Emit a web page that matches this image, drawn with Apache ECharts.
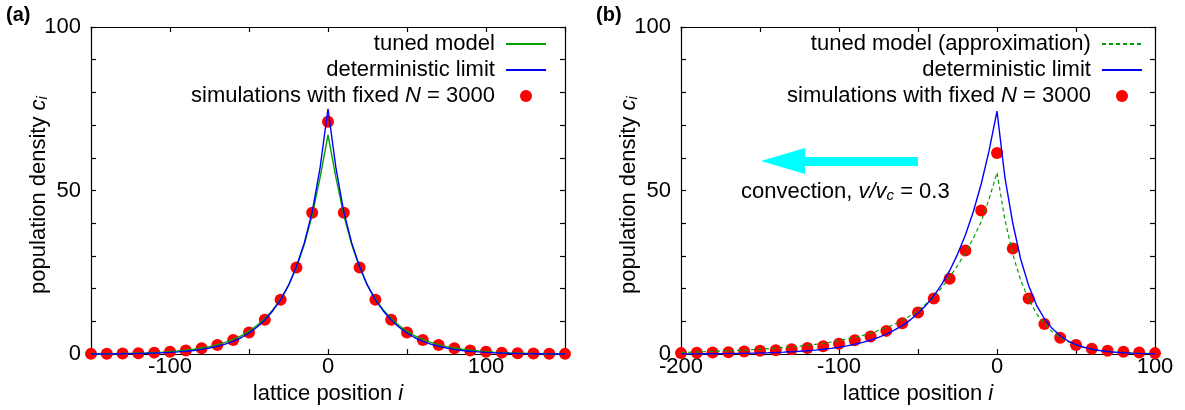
<!DOCTYPE html>
<html>
<head>
<meta charset="utf-8">
<script src="https://cdn.jsdelivr.net/npm/echarts@6/dist/echarts.min.js"></script>
<style>
  html, body { margin: 0; padding: 0; background: #fff; }
  #chart { width: 1185px; height: 410px; }
</style>
</head>
<body>
<div id="chart"></div>
<script>
// panel (a): symmetric profile
const simXA = [-150,-140,-130,-120,-110,-100,-90,-80,-70,-60,-50,-40,-30,-20,-10,0,10,20,30,40,50,60,70,80,90,100,110,120,130,140,150]
const simA = [0.07,0.11,0.18,0.28,0.45,0.7,1.1,1.8,2.8,4.3,6.6,10.5,16.6,26.5,43.2,71,43.2,26.5,16.6,10.5,6.6,4.3,2.8,1.8,1.1,0.7,0.45,0.28,0.18,0.11,0.07]
const lineXA = [-150,-145,-140,-135,-130,-125,-120,-115,-110,-105,-100,-95,-90,-85,-80,-75,-70,-65,-60,-55,-50,-45,-40,-35,-30,-25,-20,-15,-10,-5,0,5,10,15,20,25,30,35,40,45,50,55,60,65,70,75,80,85,90,95,100,105,110,115,120,125,130,135,140,145,150]
const tunedA = [0.08,0.1,0.12,0.15,0.19,0.24,0.3,0.38,0.48,0.6,0.75,0.94,1.18,1.48,1.85,2.3,2.9,3.6,4.5,5.6,7.0,8.7,10.8,13.5,16.8,21,26.5,33.5,42.5,54,67,54,42.5,33.5,26.5,21,16.8,13.5,10.8,8.7,7.0,5.6,4.5,3.6,2.9,2.3,1.85,1.48,1.18,0.94,0.75,0.6,0.48,0.38,0.3,0.24,0.19,0.15,0.12,0.1,0.08]
const detA = [0.04,0.05,0.07,0.09,0.12,0.15,0.19,0.25,0.32,0.41,0.53,0.68,0.88,1.12,1.45,1.85,2.4,3.05,3.9,5.0,6.4,8.2,10.4,13.2,16.6,21,26.8,34,43.5,57,75,57,43.5,34,26.8,21,16.6,13.2,10.4,8.2,6.4,5.0,3.9,3.05,2.4,1.85,1.45,1.12,0.88,0.68,0.53,0.41,0.32,0.25,0.19,0.15,0.12,0.09,0.07,0.05,0.04]

// panel (b): with convection
const simXB = [-200,-190,-180,-170,-160,-150,-140,-130,-120,-110,-100,-90,-80,-70,-60,-50,-40,-30,-20,-10,0,10,20,30,40,50,60,70,80,90,100]
const simB = [0.3,0.4,0.5,0.6,0.8,1.0,1.2,1.5,1.9,2.4,3.2,4.2,5.4,7.1,9.4,12.7,17.0,23.0,31.7,43.9,61.5,32.3,17.0,9.2,5.0,2.8,1.6,1.0,0.7,0.5,0.3]
const lineXB = [-200,-195,-190,-185,-180,-175,-170,-165,-160,-155,-150,-145,-140,-135,-130,-125,-120,-115,-110,-105,-100,-95,-90,-85,-80,-75,-70,-65,-60,-55,-50,-45,-40,-35,-30,-25,-20,-15,-10,-5,0,5,10,15,20,25,30,35,40,45,50,55,60,65,70,75,80,85,90,95,100]
const tunedB = [0.5,0.57,0.65,0.72,0.8,0.9,1.0,1.1,1.2,1.35,1.5,1.65,1.8,2.0,2.2,2.45,2.7,3.0,3.3,3.7,4.1,4.6,5.1,5.7,6.4,7.2,8.1,9.1,10.3,11.7,13.3,15.3,17.5,20.3,23.5,27,31,35.4,40.5,47.4,55.5,41.1,30.5,22.6,16.8,12.4,9.2,6.8,5.1,3.8,2.8,2.05,1.5,1.13,0.85,0.63,0.47,0.35,0.26,0.19,0.14]
const detB = [0.06,0.07,0.08,0.1,0.12,0.14,0.17,0.21,0.25,0.3,0.35,0.42,0.5,0.6,0.72,0.86,1.03,1.23,1.47,1.76,2.1,2.5,3.0,3.6,4.3,5.1,6.1,7.3,8.7,10.4,12.5,14.9,17.8,21.3,25.5,30.5,36.4,43.5,52,62.2,74.3,54,40,29,21,15,10.8,7.8,5.6,4.0,2.9,2.1,1.5,1.1,0.8,0.58,0.42,0.3,0.22,0.16,0.12]

const FONT = 'Liberation Sans'
const FS = 22
const rich = {
  n: { fontSize: FS, fontFamily: FONT, color: '#000', lineHeight: 22 },
  i: { fontSize: FS, fontFamily: FONT, color: '#000', fontStyle: 'italic', lineHeight: 22 },
  s: { fontSize: 15, fontFamily: FONT, color: '#000', fontStyle: 'italic', lineHeight: 15, padding: [13, 0, 0, 0], verticalAlign: 'bottom' }
}
const axisLineStyle = { color: '#000', width: 1.2 }

function xAxes(grid, min, max) {
  const base = {
    type: 'value', gridIndex: grid, min: min, max: max, interval: 50,
    axisLine: { show: true, onZero: false, lineStyle: axisLineStyle },
    axisTick: { show: true, inside: true, length: 5, lineStyle: axisLineStyle },
    splitLine: { show: false }
  }
  return [
    Object.assign({}, base, {
      position: 'bottom',
      name: 'lattice position {i|i}', nameLocation: 'middle', nameGap: 22,
      nameTextStyle: { fontSize: FS, fontFamily: FONT, color: '#000', lineHeight: 22, rich: rich },
      axisLabel: { fontSize: FS, fontFamily: FONT, color: '#000', margin: 2, lineHeight: 22,
        formatter: v => (v % 100 === 0 ? String(v) : '') }
    }),
    Object.assign({}, base, { position: 'top', axisLabel: { show: false } })
  ]
}

function yAxes(grid) {
  const base = {
    type: 'value', gridIndex: grid, min: 0, max: 100, interval: 10,
    axisLine: { show: true, onZero: false, lineStyle: axisLineStyle },
    axisTick: { show: true, inside: true, length: 5, lineStyle: axisLineStyle },
    splitLine: { show: false }
  }
  return [
    Object.assign({}, base, {
      position: 'left',
      axisLabel: { fontSize: FS, fontFamily: FONT, color: '#000', margin: 10,
        formatter: v => (v % 50 === 0 ? String(v) : '') }
    }),
    Object.assign({}, base, { position: 'right', axisLabel: { show: false } })
  ]
}

const pairs = (xs, ys) => xs.map((x, k) => [x, ys[k]])

// line entries: hide the marker ECharts puts in the middle of the legend line
function legendFor(names, right) {
  return {
    data: names.map(n => n.indexOf('simulations') === 0 ? { name: n } : { name: n, itemStyle: { opacity: 0 } }),
    orient: 'vertical', align: 'right', right: right, top: 33,
    padding: 0, itemWidth: 40, itemHeight: 12, itemGap: 4, selectedMode: false,
    textStyle: { fontSize: FS, fontFamily: FONT, color: '#000', lineHeight: 22, rich: rich },
    formatter: name => name === 'simulations with fixed N = 3000'
      ? '{n|simulations with fixed }{i|N}{n| = 3000 }' : '{n|' + name + ' }'
  }
}

const yTitle = '{n|population density }{i|c}{s|i}'

const chart = echarts.init(document.getElementById('chart'), null, { renderer: 'canvas' })
chart.setOption({
  animation: false,
  backgroundColor: '#fff',
  grid: [
    { left: 91, top: 27, width: 474, height: 336 },
    { left: 681, top: 27, width: 474, height: 336 }
  ],
  xAxis: xAxes(0, -150, 150).concat(xAxes(1, -200, 100)),
  yAxis: yAxes(0).concat(yAxes(1)),
  legend: [
    legendFor(['tuned model', 'deterministic limit', 'simulations with fixed N = 3000'], 638),
    legendFor(['tuned model (approximation)', 'deterministic limit', 'simulations with fixed N = 3000'], 42)
  ],
  series: [
    { name: 'tuned model', type: 'line', xAxisIndex: 0, yAxisIndex: 0, data: pairs(lineXA, tunedA),
      symbol: 'none', clip: false, lineStyle: { color: '#00a000', width: 1.4 }, itemStyle: { color: '#00a000' } },
    { name: 'deterministic limit', type: 'line', xAxisIndex: 0, yAxisIndex: 0, data: pairs(lineXA, detA),
      symbol: 'none', clip: false, lineStyle: { color: '#0000ff', width: 1.4 }, itemStyle: { color: '#0000ff' } },
    { name: 'simulations with fixed N = 3000', type: 'scatter', xAxisIndex: 0, yAxisIndex: 0, data: pairs(simXA, simA),
      symbol: 'circle', symbolSize: 12, clip: false, itemStyle: { color: '#ff0000', opacity: 1 } },
    { name: 'tuned model (approximation)', type: 'line', xAxisIndex: 2, yAxisIndex: 2, data: pairs(lineXB, tunedB),
      symbol: 'none', clip: false, lineStyle: { color: '#00a000', width: 1.2, type: [4, 3] }, itemStyle: { color: '#00a000' } },
    { name: 'deterministic limit', type: 'line', xAxisIndex: 2, yAxisIndex: 2, data: pairs(lineXB, detB),
      symbol: 'none', clip: false, lineStyle: { color: '#0000ff', width: 1.4 }, itemStyle: { color: '#0000ff' } },
    { name: 'simulations with fixed N = 3000', type: 'scatter', xAxisIndex: 2, yAxisIndex: 2, data: pairs(simXB, simB),
      symbol: 'circle', symbolSize: 12, clip: false, itemStyle: { color: '#ff0000', opacity: 1 } }
  ],
  graphic: [
    { type: 'text', left: 6, top: 5, style: { text: '(a)', font: 'bold 20px "Liberation Sans"', fill: '#000' } },
    { type: 'text', left: 596, top: 5, style: { text: '(b)', font: 'bold 20px "Liberation Sans"', fill: '#000' } },
    { type: 'text', x: 39, y: 195, rotation: Math.PI / 2,
      style: { text: yTitle, rich: rich, align: 'center', verticalAlign: 'middle', textAlign: 'center', textVerticalAlign: 'middle' } },
    { type: 'text', x: 629, y: 195, rotation: Math.PI / 2,
      style: { text: yTitle, rich: rich, align: 'center', verticalAlign: 'middle', textAlign: 'center', textVerticalAlign: 'middle' } },
    // convection arrow and caption
    { type: 'polygon', shape: { points: [[761, 161], [805, 148], [805, 157], [918, 157], [918, 166], [805, 166], [805, 174]] },
      style: { fill: '#00ffff' } },
    { type: 'text', x: 741, y: 192,
      style: { text: '{n|convection, }{i|v/v}{s|c}{n| = 0.3}', rich: rich, align: 'left', verticalAlign: 'middle',
        textAlign: 'left', textVerticalAlign: 'middle' } }
  ]
})
</script>
</body>
</html>
